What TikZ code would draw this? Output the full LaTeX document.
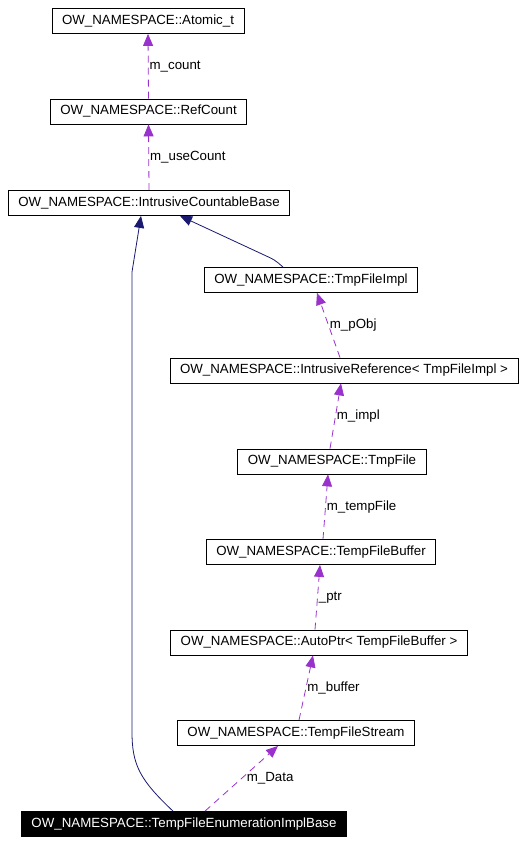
\documentclass[tikz,border=0pt]{standalone}
\usepackage{fontspec}
\setmainfont{Liberation Sans}
\usetikzlibrary{calc,positioning,arrows.meta}
\definecolor{membercol}{RGB}{153,50,204}
\definecolor{inhercol}{RGB}{25,25,112}
\tikzset{
    classbox/.style={draw,line width=0.8pt,minimum height=25pt,inner xsep=10pt,inner ysep=0pt,font=\fontsize{13.3}{14}\selectfont},
    selfbox/.style={classbox,fill=black,text=white},
    member/.style={line width=0.8pt,membercol,dash pattern=on 7pt off 5pt,-{Triangle[length=12pt,width=10pt]}},
    inher/.style={line width=0.8pt,inhercol,-{Triangle[length=12pt,width=10pt]}},
    lbl/.style={anchor=west,inner sep=1pt,text=black,font=\fontsize{13.3}{14}\selectfont}
}
\begin{document}
\begin{tikzpicture}[x=1pt,y=-1pt]
                    \useasboundingbox (0,0) rectangle (525,843);
                    % classes
                    \node[classbox] (atomic) at (148,21) {OW\_NAMESPACE::Atomic\_t};
                    \node[classbox] (refcount) at (148.5,111.5) {OW\_NAMESPACE::RefCount};
                    \node[classbox] (icb) at (149,203) {OW\_NAMESPACE::IntrusiveCountableBase};
                    \node[classbox] (tmpimpl) at (311,280) {OW\_NAMESPACE::TmpFileImpl};
                    \node[classbox] (irref) at (344,370.5) {OW\_NAMESPACE::IntrusiveReference< TmpFileImpl >};
                    \node[classbox] (tmpfile) at (332,461.5) {OW\_NAMESPACE::TmpFile};
                    \node[classbox] (tfbuf) at (321,552) {OW\_NAMESPACE::TempFileBuffer};
                    \node[classbox] (autoptr) at (319,642.5) {OW\_NAMESPACE::AutoPtr< TempFileBuffer >};
                    \node[classbox] (tfstream) at (296,733) {OW\_NAMESPACE::TempFileStream};
                    \node[selfbox] (enum) at (184,824) {OW\_NAMESPACE::TempFileEnumerationImplBase};
                    % members
                    \draw[member] (refcount.north) -- (atomic.south) node[lbl,midway] {m\_count};
                    \draw[member] (icb.north) -- (refcount.south) node[lbl,midway] {m\_useCount};
                    \draw[member] ([xshift=-4pt]irref.north) -- ([xshift=6pt]tmpimpl.south) node[lbl,midway] {m\_pObj};
                    \draw[member] ([xshift=-2pt]tmpfile.north) -- ([xshift=-3pt]irref.south) node[lbl,midway] {m\_impl};
                    \draw[member] ([xshift=2pt]tfbuf.north) -- ([xshift=-4pt]tmpfile.south) node[lbl,midway] {m\_tempFile};
                    \draw[member] ([xshift=-4pt]autoptr.north) -- ([xshift=-1pt]tfbuf.south) node[lbl,midway] {\_ptr};
                    \draw[member] ([xshift=3pt]tfstream.north) -- ([xshift=-6pt]autoptr.south) node[lbl,midway] {m\_buffer};
                    \draw[member] ([xshift=21pt]enum.north) -- ([xshift=-18pt]tfstream.south) node[lbl,midway,xshift=4pt] {m\_Data};
                    % inheritance
                    \draw[inher] ([xshift=-28pt]tmpimpl.north) .. controls (275,260) .. (262,254) -- ([xshift=31pt]icb.south);
                    \draw[inher] ([xshift=-11pt]enum.north) .. controls (140,780) and (132,765) .. (132,732) -- (132,272) -- ([xshift=-8pt]icb.south);
                \end{tikzpicture}
\end{document}
